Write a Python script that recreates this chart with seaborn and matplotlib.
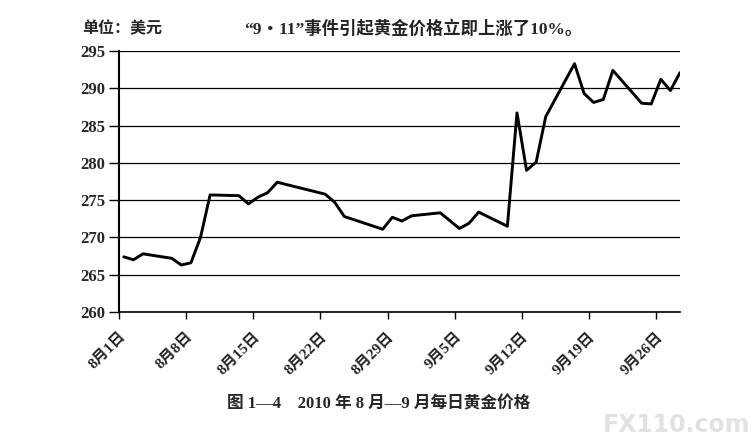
import matplotlib
matplotlib.use("Agg")
import matplotlib.pyplot as plt
import matplotlib.transforms as mtransforms
import seaborn as sns
import pandas as pd

# ---- data ----
dates = [
    "2001-08-01", "2001-08-02", "2001-08-03", "2001-08-06", "2001-08-07",
    "2001-08-08", "2001-08-09", "2001-08-10", "2001-08-13", "2001-08-14",
    "2001-08-15", "2001-08-16", "2001-08-17", "2001-08-22", "2001-08-23",
    "2001-08-24", "2001-08-28", "2001-08-29", "2001-08-30", "2001-08-31",
    "2001-09-03", "2001-09-05", "2001-09-06", "2001-09-07", "2001-09-10",
    "2001-09-11", "2001-09-12", "2001-09-13", "2001-09-14", "2001-09-17",
    "2001-09-18", "2001-09-19", "2001-09-20", "2001-09-21", "2001-09-24",
    "2001-09-25", "2001-09-26", "2001-09-27", "2001-09-28",
]
prices = [
    267.4, 267.0, 267.8, 267.2, 266.3,
    266.6, 270.0, 275.7, 275.6, 274.5,
    275.4, 276.0, 277.4, 275.8, 274.7,
    272.8, 271.1, 272.7, 272.2, 272.9,
    273.3, 271.2, 271.9, 273.4, 271.5,
    286.7, 279.0, 280.1, 286.2, 293.3,
    289.3, 288.1, 288.5, 292.4, 288.0,
    287.9, 291.2, 289.7, 292.1,
]
tick_dates = ["2001-08-01", "2001-08-08", "2001-08-15", "2001-08-22",
              "2001-08-29", "2001-09-05", "2001-09-12", "2001-09-19",
              "2001-09-26"]
tick_labels = ["8月1日", "8月8日", "8月15日", "8月22日", "8月29日",
               "9月5日", "9月12日", "9月19日", "9月26日"]
y_ticks = [260, 265, 270, 275, 280, 285, 290, 295]
unit_text = "单位：美元"
note_text = "“9・11”事件引起黄金价格立即上涨了10%。"
title_text = "图 1—4　2010 年 8 月—9 月每日黄金价格"
watermark = "FX110.com"

# ---- styling ----
sns.set_theme(style="white")
plt.rcParams["font.family"] = ["Liberation Serif", "Noto Sans CJK SC", "DejaVu Sans"]
plt.rcParams["axes.unicode_minus"] = False

df = pd.DataFrame({
    # points sit in the middle of each day's slot (date axis, between ticks)
    "date": pd.to_datetime(dates) + pd.Timedelta(hours=12),
    "price": prices,
})

W, H = 752, 440
fig = plt.figure(figsize=(W / 100, H / 100), dpi=100)
fig.patch.set_facecolor("white")
ax = fig.add_axes([119 / W, 1 - 312 / H, (680 - 119) / W, (312 - 51) / H])

sns.lineplot(data=df, x="date", y="price", color="black", linewidth=2.1,
             ax=ax, legend=False)

start = pd.Timestamp("2001-08-01")
ax.set_xlim(start, start + pd.Timedelta(days=58.5))
ax.set_ylim(260, 295)
ax.set_yticks(y_ticks)
ax.set_yticklabels([str(v) for v in y_ticks], fontsize=12, fontweight="bold")
ax.set_xticks(pd.to_datetime(tick_dates))
ax.set_xticklabels(tick_labels, rotation=45, ha="right", va="top",
                   rotation_mode="anchor", fontsize=11, fontweight="bold")
shift = mtransforms.ScaledTranslation(-4 / 100, 0, fig.dpi_scale_trans)
for lab in ax.get_xticklabels():
    lab.set_transform(lab.get_transform() + shift)
ax.set_xlabel("")
ax.set_ylabel("")

ax.set_axisbelow(True)
ax.yaxis.grid(True, color="black", linewidth=0.9)
ax.xaxis.grid(False)
for side in ("top", "right"):
    ax.spines[side].set_visible(False)
ax.spines["left"].set_color("black")
ax.spines["left"].set_linewidth(1.5)
ax.spines["bottom"].set_color("black")
ax.spines["bottom"].set_linewidth(1.2)
ax.tick_params(axis="y", direction="out", length=7, width=1.0, color="black",
               pad=3, left=True)
ax.tick_params(axis="x", direction="out", length=5, width=1.0, color="black",
               pad=8, bottom=True)

fig.text(82 / W, 1 - 29 / H, unit_text, ha="left", va="center", fontsize=11.5,
         fontweight="bold")
fig.text(244 / W, 1 - 29 / H, note_text, ha="left", va="center", fontsize=12.5,
         fontweight="bold")
fig.text(379 / W, 1 - 404 / H, title_text, ha="center", va="center",
         fontsize=12, fontweight="bold")
fig.text(750 / W, 1 - 437 / H, watermark, ha="right", va="bottom",
         fontsize=17, fontweight="bold", color="#e2e2e2",
         family=["DejaVu Sans"])

fig.savefig("out.png", dpi=100)
